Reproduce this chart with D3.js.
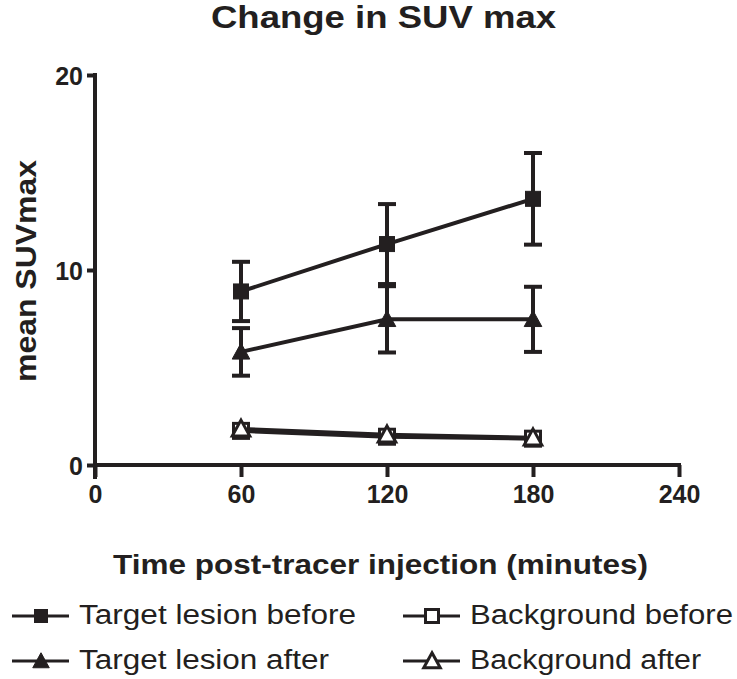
<!DOCTYPE html>
<html>
<head>
<meta charset="utf-8">
<script src="https://cdn.jsdelivr.net/npm/d3@7"></script>
<style>
  body { margin: 0; background: #fff; }
  text { font-family: Arial, "Liberation Sans", sans-serif; fill: #231f20; }
</style>
</head>
<body>
<div id="chart"></div>
<script>
// data
var times = [60, 120, 180];
var targetBefore = [8.9, 11.33, 13.65];
var targetBeforeErr = [1.52, 2.05, 2.35];
var targetAfter = [5.8, 7.47, 7.47];
var targetAfterErr = [1.22, 1.7, 1.67];
var bgBefore = [1.75, 1.45, 1.35];
var bgBeforeErr = [0.1, 0.1, 0.08];
var bgAfter = [1.85, 1.55, 1.4];
var bgAfterErr = [0.1, 0.1, 0.08];
var xTicks = [0, 60, 120, 180, 240];
var yTicks = [0, 10, 20];

var series = [
  { name: "Target lesion before", values: targetBefore, err: targetBeforeErr, shape: "square", filled: true },
  { name: "Target lesion after", values: targetAfter, err: targetAfterErr, shape: "triangle", filled: true },
  { name: "Background before", values: bgBefore, err: bgBeforeErr, shape: "square", filled: false },
  { name: "Background after", values: bgAfter, err: bgAfterErr, shape: "triangle", filled: false }
];

var W = 737, H = 679;
var margin = { top: 75, left: 95 },
  width = 584, height = 390;
var ink = "#231f20";

var svg = d3.select("#chart").append("svg")
  .attr("width", W).attr("height", H);

var g = svg.append("g")
  .attr("transform", "translate(" + margin.left + "," + margin.top + ")");

var x = d3.scaleLinear().domain([0, 240]).range([0, width]);
var y = d3.scaleLinear().domain([0, 20]).range([height, 0]);

// title
svg.append("text")
  .attr("x", 211).attr("y", 28)
  .attr("font-size", 32).attr("font-weight", "bold")
  .attr("textLength", 345).attr("lengthAdjust", "spacingAndGlyphs")
  .text("Change in SUV max");

// axes
var xAxis = g.append("g")
  .attr("transform", "translate(0," + height + ")")
  .call(d3.axisBottom(x).tickValues(xTicks).tickSize(12).tickPadding(8).tickSizeOuter(0));
var yAxis = g.append("g")
  .call(d3.axisLeft(y).tickValues(yTicks).tickSize(8).tickPadding(4).tickSizeOuter(0));

[xAxis, yAxis].forEach(function(a) {
  a.select(".domain").attr("stroke", ink).attr("stroke-width", 4);
  a.selectAll(".tick line").attr("stroke", ink).attr("stroke-width", 4);
  a.selectAll(".tick text")
    .attr("font-family", "Arial, 'Liberation Sans', sans-serif")
    .attr("font-size", 25).attr("font-weight", "bold").attr("fill", ink);
});
xAxis.select(".domain").attr("d", "M-2,0H" + (width + 2));
yAxis.select(".domain").attr("d", "M0,-2V" + (height + 14));
yAxis.selectAll(".tick text").attr("dy", "0.36em");

// axis titles
svg.append("text")
  .attr("transform", "translate(36," + (margin.top + 196) + ") rotate(-90)")
  .attr("x", -111)
  .attr("font-size", 29).attr("font-weight", "bold")
  .attr("textLength", 222).attr("lengthAdjust", "spacingAndGlyphs")
  .text("mean SUVmax");

svg.append("text")
  .attr("x", 113).attr("y", 574)
  .attr("font-size", 28).attr("font-weight", "bold")
  .attr("textLength", 535).attr("lengthAdjust", "spacingAndGlyphs")
  .text("Time post-tracer injection (minutes)");

var line = d3.line()
  .x(function(d, i) { return x(times[i]); })
  .y(function(d) { return y(d); });

function marker(sel, shape, filled, size) {
  var p;
  if (shape === "square") {
    p = sel.append("rect")
      .attr("x", -size / 2).attr("y", -size / 2)
      .attr("width", size).attr("height", size);
  } else {
    var h = size;
    p = sel.append("path")
      .attr("d", "M0," + (-h * 0.55) + "L" + (h * 0.55) + "," + (h * 0.45) + "L" + (-h * 0.55) + "," + (h * 0.45) + "Z");
  }
  p.attr("fill", filled ? ink : "#fff")
    .attr("stroke", ink)
    .attr("stroke-width", filled ? 1 : 3);
}

// lines
series.forEach(function(s) {
  g.append("path")
    .attr("d", line(s.values))
    .attr("fill", "none")
    .attr("stroke", ink)
    .attr("stroke-width", 4);
});

// error bars
series.forEach(function(s) {
  s.values.forEach(function(v, i) {
    var cx = x(times[i]);
    var eb = g.append("g").attr("stroke", ink).attr("stroke-width", 4);
    eb.append("line").attr("x1", cx).attr("x2", cx).attr("y1", y(v + s.err[i])).attr("y2", y(v - s.err[i]));
    eb.append("line").attr("x1", cx - 9).attr("x2", cx + 9).attr("y1", y(v + s.err[i])).attr("y2", y(v + s.err[i]));
    eb.append("line").attr("x1", cx - 9).attr("x2", cx + 9).attr("y1", y(v - s.err[i])).attr("y2", y(v - s.err[i]));
  });
});

// markers
series.forEach(function(s) {
  s.values.forEach(function(v, i) {
    var m = g.append("g").attr("transform", "translate(" + x(times[i]) + "," + y(v) + ")");
    marker(m, s.shape, s.filled, s.shape === "square" ? 15 : 16);
  });
});

// legend
var legendPos = [
  { x: 12, y: 616, tl: 277 }, { x: 12, y: 661, tl: 250 },
  { x: 403, y: 616, tl: 263 }, { x: 403, y: 661, tl: 231 }
];
series.forEach(function(s, i) {
  var lp = legendPos[i];
  var lg = svg.append("g").attr("transform", "translate(" + lp.x + "," + lp.y + ")");
  lg.append("line").attr("x1", 0).attr("x2", 57).attr("y1", 0).attr("y2", 0)
    .attr("stroke", ink).attr("stroke-width", 3);
  var m = lg.append("g").attr("transform", "translate(29,0)");
  marker(m, s.shape, s.filled, s.shape === "square" ? 13 : 15);
  lg.append("text")
    .attr("x", 67).attr("y", 8)
    .attr("font-size", 27)
    .attr("textLength", lp.tl).attr("lengthAdjust", "spacingAndGlyphs")
    .text(s.name);
});
</script>
</body>
</html>
